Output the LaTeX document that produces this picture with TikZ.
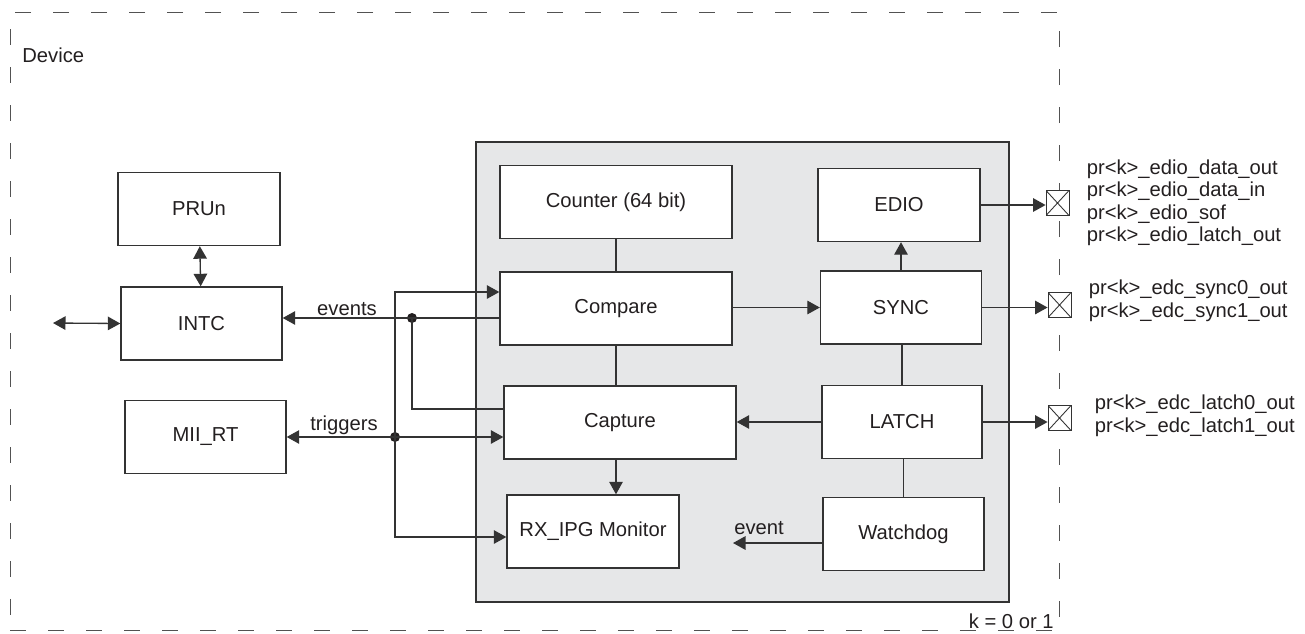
\documentclass[tikz,border=0pt]{standalone}
\usepackage{fontspec}
\setmainfont{Liberation Sans}
\usetikzlibrary{arrows.meta,positioning}

\definecolor{linegray}{HTML}{333333}
\definecolor{panelgray}{HTML}{E6E7E8}
\definecolor{inkgray}{HTML}{231F20}

\begin{document}
\begin{tikzpicture}[
  x=0.02cm, y=-0.02cm,
  every node/.style={font=\fontsize{11.5}{12.8}\selectfont, text=inkgray},
  block/.style={rectangle, draw=linegray, line width=0.8pt, fill=white,
    minimum height=1.46cm, align=center},
  devbox/.style={rectangle, draw=linegray!85, line width=0.6pt,
    dash pattern=on 0.32cm off 0.44cm, minimum width=21cm, minimum height=12.38cm},
  panel/.style={rectangle, draw=linegray, line width=0.8pt, fill=panelgray,
    minimum width=10.66cm, minimum height=9.2cm},
  pad/.style={rectangle, draw=linegray, line width=0.5pt, fill=white,
    minimum width=0.46cm, minimum height=0.5cm, inner sep=0pt,
    path picture={\draw[linegray, line width=0.5pt]
      (path picture bounding box.north west) -- (path picture bounding box.south east)
      (path picture bounding box.south west) -- (path picture bounding box.north east);}},
  pinlbl/.style={inner sep=0pt, align=left},
  lbl/.style={inner sep=0pt},
  dot/.style={circle, fill=inkgray, inner sep=0pt, minimum size=0.2cm},
  line/.style={draw=linegray, line width=0.75pt},
  arrow/.style={line, -{Triangle[length=0.25cm,width=0.27cm]}},
  biarrow/.style={line, {Triangle[length=0.25cm,width=0.27cm]}-{Triangle[length=0.25cm,width=0.27cm]}}
]
  \useasboundingbox (0,0) rectangle (1305,633);

  % device frame and the IEP panel
  \node[devbox] (device) at (535,321.5) {};
  \node[lbl, anchor=west] (devlbl) at (22,55) {Device};
  \node[panel] (iep) at (742.5,372) {};

  % blocks outside the panel
  \node[block, minimum width=3.24cm] (PRUn)  at (199,209)   {PRUn};
  \node[block, minimum width=3.22cm] (INTC)  at (201.5,323.5) {INTC};
  \node[block, minimum width=3.22cm] (MIIRT) at (205.5,437) {MII\_RT};

  % blocks inside the panel
  \node[block, minimum width=4.64cm] (Counter) at (616,202)   {Counter (64 bit)};
  \node[block, minimum width=4.64cm] (Compare) at (616,308.5) {Compare};
  \node[block, minimum width=4.64cm] (Capture) at (620,422.5) {Capture};
  \node[block, minimum width=3.44cm] (RXIPG)   at (593,531.5) {RX\_IPG Monitor};
  \node[block, minimum width=3.24cm] (EDIO)     at (899,205)   {EDIO};
  \node[block, minimum width=3.22cm] (SYNC)     at (901,307.5) {SYNC};
  \node[block, minimum width=3.20cm] (LATCH)    at (902,422)   {LATCH};
  \node[block, minimum width=3.22cm] (Watchdog) at (903.5,534) {Watchdog};

  % pins
  \node[pad] (padE) at (1057.5,203) {};
  \node[pad] (padS) at (1059.5,305) {};
  \node[pad] (padL) at (1059.5,418) {};
  \node[pinlbl, right=0.34cm of padE] (lblE) {pr<k>\_edio\_data\_out\\pr<k>\_edio\_data\_in\\pr<k>\_edio\_sof\\pr<k>\_edio\_latch\_out};
  \node[pinlbl, right=0.34cm of padS, yshift=0.08cm] (lblS) {pr<k>\_edc\_sync0\_out\\pr<k>\_edc\_sync1\_out};
  \node[pinlbl, right=0.46cm of padL, yshift=0.04cm] (lblL) {pr<k>\_edc\_latch0\_out\\pr<k>\_edc\_latch1\_out};
  \node[lbl, anchor=east] (klbl) at (1054,621) {k = 0 or 1};

  % junctions
  \coordinate (ext)    at (53,323);
  \coordinate (bustop) at (395,292);
  \coordinate (busbot) at (395,537);
  \coordinate (evtip)  at (733,543);
  \node[dot] (evdot) at (412,318) {};
  \node[dot] (trdot) at (395,437) {};

  % left side connectors
  \draw[biarrow] (PRUn) -- (INTC);
  \draw[biarrow] (ext) -- (INTC.west);
  \draw[arrow] (Compare.west |- evdot) -- (INTC.east |- evdot);
  \draw[line] (evdot.center) |- ([yshift=0.27cm]Capture.west);
  \draw[biarrow] (MIIRT.east |- trdot) -- (Capture.west |- trdot);
  \draw[arrow] (trdot.center) -- (bustop) -- (Compare.west |- bustop);
  \draw[arrow] (trdot.center) -- (busbot) -- (RXIPG.west |- busbot);
  \node[lbl, anchor=base] (evlbl) at (347,315) {events};
  \node[lbl, anchor=base] (trlbl) at (344,430) {triggers};

  % panel connectors
  \draw[line] (Counter) -- (Compare);
  \draw[line] (Compare.south) -- (Compare.south |- Capture.north);
  \draw[arrow] (Compare.south |- Capture.south) -- (Compare.south |- RXIPG.north);
  \draw[arrow] (Compare.east |- SYNC.west) -- (SYNC.west);
  \draw[arrow] (SYNC.north) -- (SYNC.north |- EDIO.south);
  \draw[line] (LATCH.north) -- (LATCH.north |- SYNC.south);
  \draw[line] (Watchdog.north) -- (Watchdog.north |- LATCH.south);
  \draw[arrow] (LATCH.west) -- (Capture.east |- LATCH.west);
  \draw[arrow] (Watchdog.west |- evtip) -- (evtip);
  \node[lbl, anchor=base] (wdlbl) at (759,534) {event};

  % outputs to pins
  \draw[arrow] (EDIO.east) -- (EDIO.east -| padE.west);
  \draw[arrow] (SYNC.east) -- (SYNC.east -| padS.west);
  \draw[arrow] (LATCH.east) -- (LATCH.east -| padL.west);
\end{tikzpicture}
\end{document}
